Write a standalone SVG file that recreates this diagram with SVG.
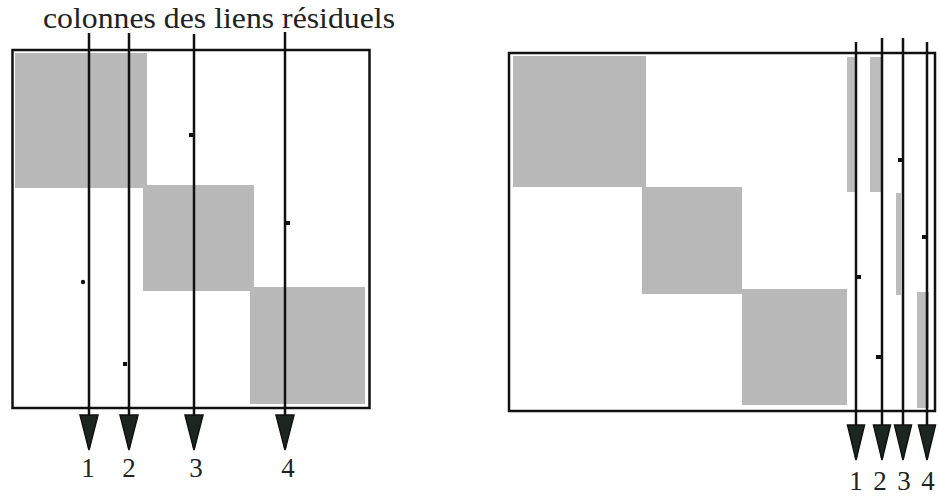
<svg xmlns="http://www.w3.org/2000/svg" width="939" height="497" viewBox="0 0 939 497">
<style>
.frame{fill:none;stroke:#111;stroke-width:2.5}
.blk{fill:#b9b9b9}
.strip{fill:#bdbdbd}
.arr{stroke:#111;stroke-width:2.5;fill:none}
.dot{fill:#111}
.lbl{font-family:"Liberation Serif","Times New Roman",serif;font-size:27px;fill:#222;text-anchor:middle}
.title{font-size:30px}
</style>
<defs>
<marker id="ah" markerUnits="userSpaceOnUse" viewBox="-1 -10 37 20" refX="33" refY="0" markerWidth="37" markerHeight="20" orient="auto">
<path d="M0,-9 L35,0 L0,9 Z" fill="#1c2621" stroke="#111" stroke-width="1.5" stroke-linejoin="miter"/>
</marker>
<marker id="ah2" markerUnits="userSpaceOnUse" viewBox="-1 -10 37 20" refX="33" refY="0" markerWidth="37" markerHeight="20" orient="auto">
<path d="M0,-8.5 L35,0 L0,8.5 Z" fill="#1c2621" stroke="#111" stroke-width="1.5" stroke-linejoin="miter"/>
</marker>
</defs>
<rect width="939" height="497" fill="#fff"/>
<text class="lbl title" x="219" y="28" textLength="352" lengthAdjust="spacingAndGlyphs">colonnes des liens résiduels</text>
<g id="matrix-left">
<rect class="blk" x="15" y="53" width="132" height="135"/>
<rect class="blk" x="143" y="185" width="111" height="106"/>
<rect class="blk" x="250" y="287" width="115" height="117"/>
<rect class="frame" x="12.5" y="50" width="357" height="358"/>
<rect class="dot" x="189" y="133" width="4" height="4"/>
<rect class="dot" x="286" y="221" width="4" height="4"/>
<circle class="dot" cx="83" cy="282" r="2.2"/>
<rect class="dot" x="123" y="362" width="4" height="4"/>
</g>
<g id="matrix-right">
<rect class="blk" x="513" y="56" width="133" height="131"/>
<rect class="blk" x="642" y="187" width="100" height="107"/>
<rect class="blk" x="742" y="289" width="105" height="116"/>
<rect class="strip" x="847" y="57" width="10" height="135"/>
<rect class="strip" x="870" y="57" width="11" height="135"/>
<rect class="strip" x="896" y="193" width="5" height="102"/>
<rect class="strip" x="917" y="292" width="12" height="116"/>
<rect class="frame" x="509" y="53" width="426" height="358"/>
<rect class="dot" x="857" y="275" width="4" height="4"/>
<rect class="dot" x="876" y="355" width="5" height="4"/>
<rect class="dot" x="898" y="158" width="5" height="4"/>
<rect class="dot" x="922" y="235" width="5" height="4"/>
</g>
<g id="connectors">
<line class="arr" x1="89" y1="33" x2="89" y2="448" marker-end="url(#ah)"/>
<line class="arr" x1="129" y1="33" x2="129" y2="448" marker-end="url(#ah)"/>
<line class="arr" x1="194" y1="34" x2="194" y2="448" marker-end="url(#ah)"/>
<line class="arr" x1="285" y1="32" x2="285" y2="448" marker-end="url(#ah)"/>
<line class="arr" x1="856" y1="42" x2="856" y2="458" marker-end="url(#ah2)"/>
<line class="arr" x1="882" y1="38" x2="882" y2="458" marker-end="url(#ah2)"/>
<line class="arr" x1="903" y1="38" x2="903" y2="458" marker-end="url(#ah2)"/>
<line class="arr" x1="927" y1="42" x2="927" y2="458" marker-end="url(#ah2)"/>
</g>
<g id="labels">
<text class="lbl" x="88" y="477">1</text>
<text class="lbl" x="129" y="477">2</text>
<text class="lbl" x="196" y="477">3</text>
<text class="lbl" x="288" y="477">4</text>
<text class="lbl" x="856" y="490">1</text>
<text class="lbl" x="880" y="490">2</text>
<text class="lbl" x="904" y="490">3</text>
<text class="lbl" x="928" y="490">4</text>
</g>
</svg>
